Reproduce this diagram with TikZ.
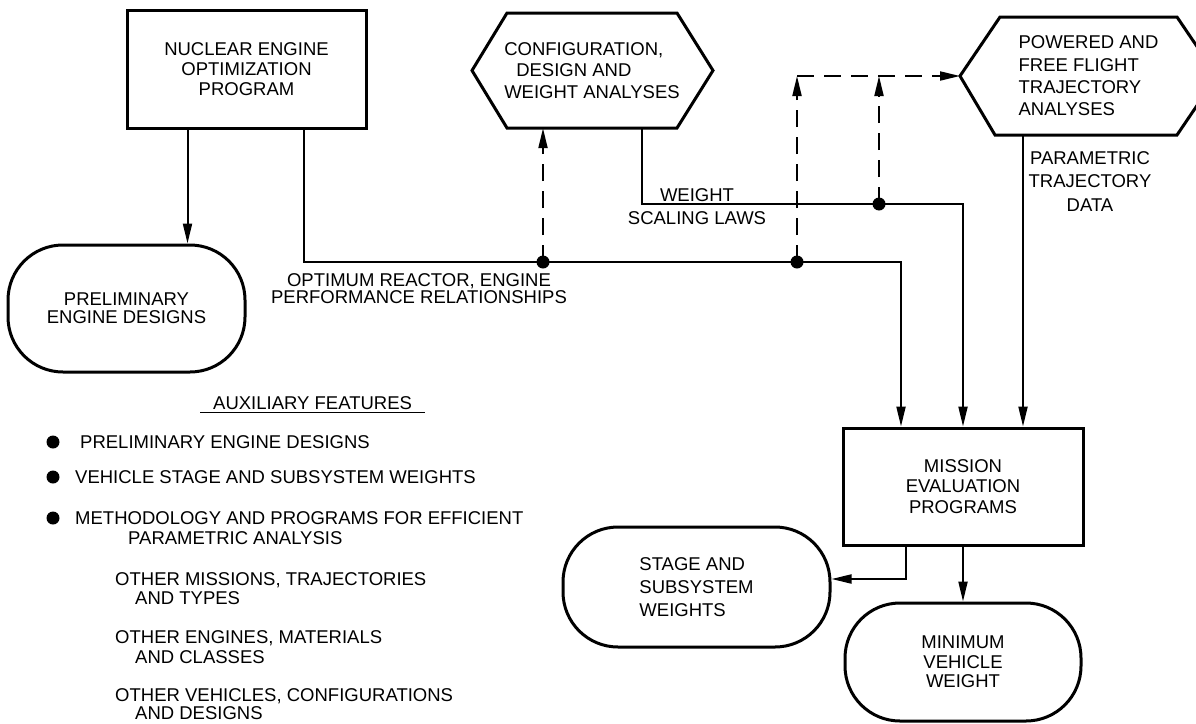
\documentclass[tikz,border=0pt]{standalone}
\usepackage{fontspec}
\setmainfont{Liberation Sans}
\usetikzlibrary{arrows.meta}
\begin{document}
\begin{tikzpicture}[x=1pt,y=-1pt,
  every node/.style={inner sep=0pt, font=\fontsize{18.5}{20}\selectfont},
  ls/.style={font=\fontsize{18.5}{#1}\selectfont},
  boxnode/.style={draw, line width=3pt, align=center},
  pill/.style={draw, line width=3pt, rounded corners=55pt},
  hexline/.style={line width=3pt, line join=miter},
  arr/.style={line width=2pt, -{Triangle[length=20pt,width=9pt]}},
  darr/.style={line width=2pt, dash pattern=on 17pt off 10pt, -{Triangle[length=20pt,width=9pt]}},
]
\useasboundingbox (0,0) rectangle (1196,723);

% main blocks
\node[boxnode, ls=20, minimum width=239pt, minimum height=118pt] (neop) at (246.5,69) {NUCLEAR ENGINE\\OPTIMIZATION\\PROGRAM};
\node[pill, align=center, ls=18, minimum width=237pt, minimum height=127pt] (ped) at (126.5,308.5) {PRELIMINARY\\ENGINE DESIGNS};

\node[align=left, ls=21.5, minimum width=170pt, minimum height=115pt] (cdwa) at (592,70.5) {CONFIGURATION,\\\hspace*{12pt}DESIGN AND\\WEIGHT ANALYSES};
\draw[hexline] ([shift={(-85,-57.5)}]cdwa.center) -- ([shift={(85,-57.5)}]cdwa.center) -- ([shift={(121,0)}]cdwa.center) -- ([shift={(85,57.5)}]cdwa.center) -- ([shift={(-85,57.5)}]cdwa.center) -- ([shift={(-120,0)}]cdwa.center) -- cycle;

\node[align=left, ls=22.3, minimum width=177pt, minimum height=118pt] (pffta) at (1088.5,76) {POWERED AND\\FREE FLIGHT\\TRAJECTORY\\ANALYSES};
\draw[hexline] ([shift={(-88.5,-59)}]pffta.center) -- ([shift={(88.5,-59)}]pffta.center) -- ([shift={(128.5,0)}]pffta.center) -- ([shift={(88.5,59)}]pffta.center) -- ([shift={(-93.5,59)}]pffta.center) -- ([shift={(-128.5,0)}]pffta.center) -- cycle;
\coordinate (pl) at ([shift={(-128.5,0)}]pffta.center);

\node[boxnode, ls=20.5, minimum width=240pt, minimum height=117pt] (mep) at (963,486.5) {MISSION\\EVALUATION\\PROGRAMS};
\node[pill, align=left, ls=23, minimum width=267pt, minimum height=120pt] (ssw) at (696.5,587) {STAGE AND\\SUBSYSTEM\\WEIGHTS};
\node[pill, align=center, ls=19.5, minimum width=236pt, minimum height=118pt] (mvw) at (963,662) {MINIMUM\\VEHICLE\\WEIGHT};

% labels
\node[align=center, ls=17] (lopt) at (419,289) {OPTIMUM REACTOR, ENGINE\\PERFORMANCE RELATIONSHIPS};
\node[align=center, ls=23] (lwsl) at (697,207) {WEIGHT\\SCALING LAWS};
\node[align=center, ls=23.5] (lptd) at (1090,181.5) {PARAMETRIC\\TRAJECTORY\\DATA};

% junctions
\coordinate (d1) at (543,262);
\coordinate (d2) at (797,262);
\coordinate (d3) at (879,204);

% connectors
\draw[arr] ([xshift=62pt]neop.south west) -- ([xshift=62pt]neop.south west |- ped.north);
\draw[arr] ([xshift=178pt]neop.south west) |- (d1) -| ([xshift=-62pt]mep.north);
\draw[arr] ([xshift=50pt]cdwa.south) |- (d3) -| (mep.north);
\draw[arr] ([xshift=-65.5pt]pffta.south) -- ([xshift=-65.5pt]pffta.south |- mep.north);
\draw[darr] (d1) -- (d1 |- cdwa.south);
\draw[darr] (d2) -- (d2 |- pl);
\draw[darr] (d2 |- pl) -- (pl);
\draw[darr] (d3) -- (d3 |- pl);
\foreach \p in {d1,d2,d3} \fill (\p) circle (6.5pt);

\draw[arr] ([xshift=64pt]mep.south west) |- ([yshift=8pt]ssw.east);
\draw[arr] (mep.south) -- (mep.south |- mvw.north);

% auxiliary features
\node[anchor=base west, inner xsep=13pt] (auxt) at (200,409.5) {AUXILIARY FEATURES};
\draw[line width=1.5pt] ([yshift=-3pt]auxt.base west) -- ([yshift=-3pt]auxt.base east);

\fill (53,442) circle (6.5pt);
\fill (53,477) circle (6.5pt);
\fill (53,518) circle (6.5pt);
\node[anchor=base west] (aux1) at (80,448.6) {PRELIMINARY ENGINE DESIGNS};
\node[anchor=base west] (aux2) at (75,483.6) {VEHICLE STAGE AND SUBSYSTEM WEIGHTS};
\node[anchor=north west, align=left, ls=20] (aux3) at (75,511.4) {METHODOLOGY AND PROGRAMS FOR EFFICIENT\\\hspace*{53pt}PARAMETRIC ANALYSIS};
\node[anchor=north west, align=left, ls=19] (aux4) at (115,572.4) {OTHER MISSIONS, TRAJECTORIES\\\hspace*{20pt}AND TYPES};
\node[anchor=north west, align=left, ls=20] (aux5) at (115,630.4) {OTHER ENGINES, MATERIALS\\\hspace*{20pt}AND CLASSES};
\node[anchor=north west, align=left, ls=18] (aux6) at (115,688.4) {OTHER VEHICLES, CONFIGURATIONS\\\hspace*{20pt}AND DESIGNS};
\end{tikzpicture}
\end{document}
